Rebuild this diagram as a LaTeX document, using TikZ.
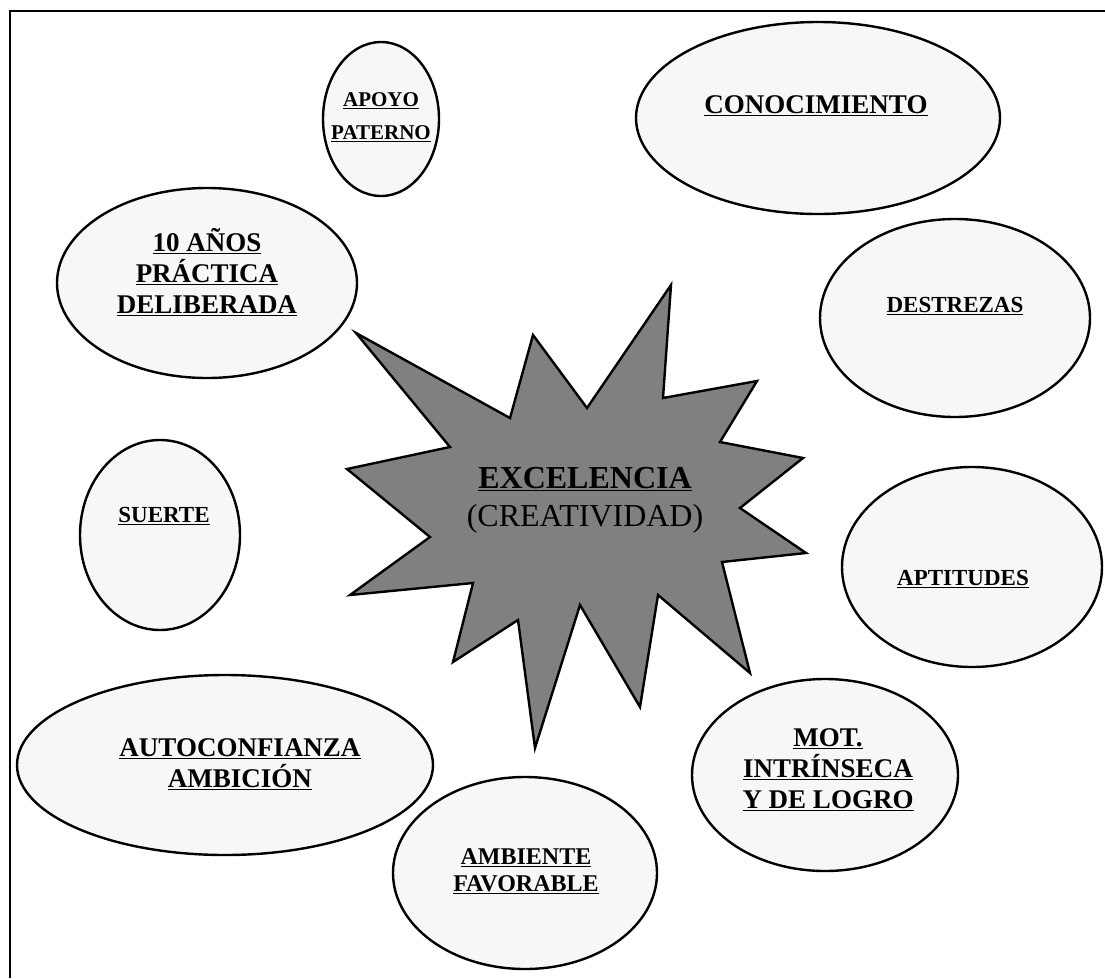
\documentclass[tikz,border=0pt]{standalone}
\usepackage{fontspec}
\setmainfont{Liberation Serif}
\usetikzlibrary{shapes.geometric}

\newcommand{\lbl}[1]{\underline{#1}}

\tikzset{
  bubble/.style={draw=black, line width=2.4pt, fill=black!3},
  caption/.style={align=center, font=\bfseries\fontsize{27}{31}\selectfont},
  smallcap/.style={caption, font=\bfseries\fontsize{23}{31}\selectfont},
  burst/.style={draw=black, line width=2.4pt, fill=black!50, line join=miter},
}

\begin{document}
\begin{tikzpicture}[x=1pt, y=-1pt]
  \useasboundingbox (0,0) rectangle (1105,978);

  % open frame: left and top sides
  \coordinate (frameBL) at (10,978);
  \coordinate (frameTL) at (10,11);
  \coordinate (frameTR) at (1105,11);
  \draw[line width=2.2pt] (frameBL) -- (frameTL) -- (frameTR);

  % factor bubbles
  \draw[bubble] (381,119) ellipse [x radius=58, y radius=77];
  \node[caption, font=\bfseries\fontsize{21}{33}\selectfont] (apoyo) at (381,117) {\lbl{APOYO}\\\lbl{PATERNO}};

  \draw[bubble] (818,118) ellipse [x radius=182, y radius=96];
  \node[caption] (conoc) at (816,106) {\lbl{CONOCIMIENTO}};

  \draw[bubble] (207,283) ellipse [x radius=150, y radius=95];
  \node[caption] (practica) at (207,272) {\lbl{10 AÑOS}\\\lbl{PRÁCTICA}\\\lbl{DELIBERADA}};

  \draw[bubble] (955,318) ellipse [x radius=135, y radius=99];
  \node[smallcap] (destrezas) at (955,306) {\lbl{DESTREZAS}};

  \draw[bubble] (160,535) ellipse [x radius=80, y radius=95];
  \node[smallcap] (suerte) at (164,516) {\lbl{SUERTE}};

  \draw[bubble] (972,567) ellipse [x radius=130, y radius=100];
  \node[smallcap] (aptitudes) at (963,579) {\lbl{APTITUDES}};

  \draw[bubble] (225,765) ellipse [x radius=208, y radius=90];
  \node[caption] (autoconf) at (240,764) {\lbl{AUTOCONFIANZA}\\\lbl{AMBICIÓN}};

  \draw[bubble] (525,873) ellipse [x radius=132, y radius=96];
  \node[caption, font=\bfseries\fontsize{24}{27}\selectfont] (ambiente) at (526,871) {\lbl{AMBIENTE}\\\lbl{FAVORABLE}};

  \draw[bubble] (825,775) ellipse [x radius=133, y radius=96];
  \node[caption] (motiv) at (828,770) {\lbl{MOT.}\\\lbl{INTRÍNSECA}\\\lbl{Y DE LOGRO}};

  % central burst
  \draw[burst]
    (671,285) -- (663,398) -- (757,381) -- (720,442) -- (803,458) --
    (740,508) -- (806,553) -- (722,562) -- (750,673) -- (658,595) --
    (640,707) -- (580,605) -- (535,748) -- (518,620) -- (453,662) --
    (473,583) -- (350,595) -- (430,537) -- (347,469) -- (450,447) --
    (356,333) -- (510,418) -- (533,335) -- (587,408) -- cycle;
  \node[align=center, font=\fontsize{32}{38}\selectfont] (excel) at (585,500)
    {\textbf{\lbl{EXCELENCIA}}\\(CREATIVIDAD)};
\end{tikzpicture}
\end{document}
